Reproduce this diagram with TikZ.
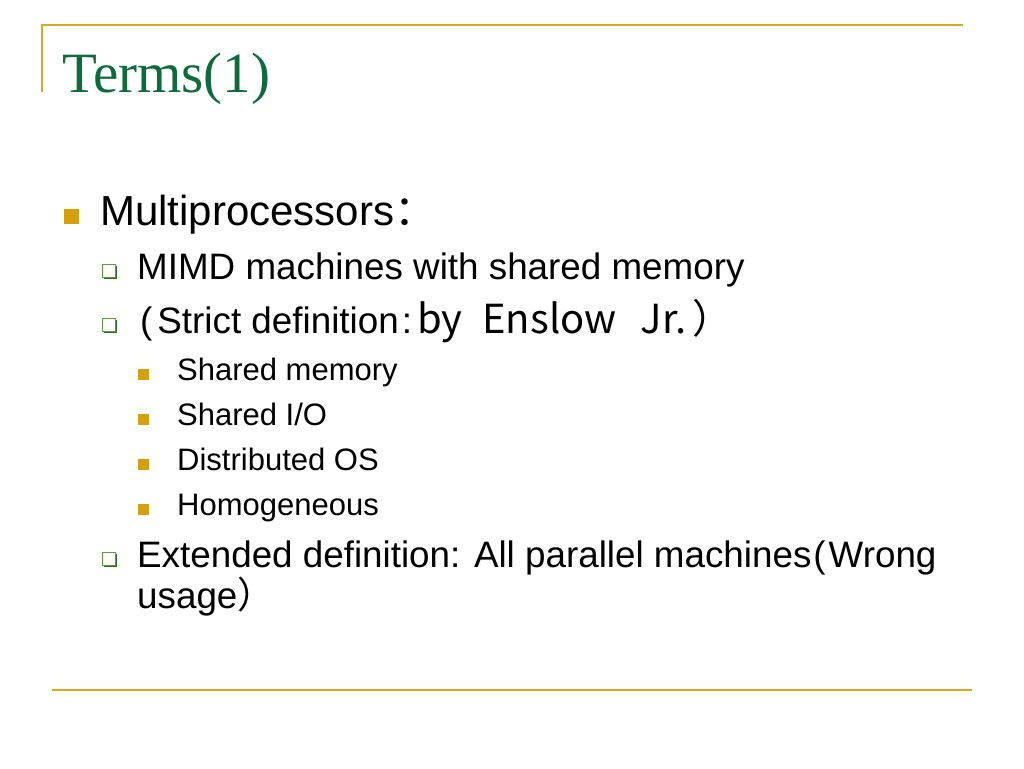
\documentclass[tikz,border=0pt]{standalone}
\usepackage{fontspec}
\setsansfont{Liberation Sans}
\newfontfamily\titlefont{Liberation Serif}
\newfontfamily\cjk{Noto Sans CJK SC}
\usetikzlibrary{shadows}
\definecolor{rulegold}{HTML}{D9A824}
\definecolor{bulgold}{HTML}{D4A010}
\definecolor{titlegreen}{HTML}{0E6B3C}
\definecolor{boxgreen}{HTML}{5C9E3C}
\definecolor{shadegreen}{HTML}{2F6A22}
\tikzset{
 rule/.style={rulegold,line width=2pt},
 txt/.style={anchor=base west,inner sep=0pt,font=\sffamily},
 levA/.style={txt,font=\sffamily\fontsize{42}{42}\selectfont},
 levB/.style={txt,font=\sffamily\fontsize{36.8}{36.8}\selectfont},
 levC/.style={txt,font=\sffamily\fontsize{31}{31}\selectfont},
 fullbul/.style={fill=bulgold,inner sep=0pt,minimum size=#1},
 openbul/.style={draw=boxgreen,fill=white,line width=1.2pt,inner sep=0pt,minimum size=13pt,
  drop shadow={shadow xshift=1.8pt,shadow yshift=-1.8pt,fill=shadegreen,opacity=1}}
}
\begin{document}
\begin{tikzpicture}[x=1pt,y=-1pt]
 \useasboundingbox[fill=white](0,0) rectangle (1024,768);
 \draw[rule](42,92)--(42,25)--(963,25);
 \draw[rule](52,690)--(972,690);
 \node[txt,font=\titlefont\fontsize{57}{57}\selectfont,text=titlegreen] (title) at (62,92) {Terms(1)};
 \node[fullbul=15pt] (b1) at (71,216) {};
 \node[levA] (multi) at (100,225) {Multiprocessors{\cjk ：}};
 \node[openbul] (b2) at (109,271) {};
 \node[levB] (mimd) at (137,279) {MIMD machines with shared memory};
 \node[openbul] (b3) at (109,325) {};
 \node[levB] (strict) at (137,333) {\kern3pt(\kern5pt Strict definition\kern3pt:\kern5pt{\cjk\fontsize{40}{40}\selectfont by\hspace{20pt}Enslow\hspace{24pt}Jr.\hspace{6pt}）}};
 \node[fullbul=11pt] (b4) at (143,374) {};
 \node[levC] (shmem) at (177,380) {Shared memory};
 \node[fullbul=11pt] (b5) at (143,419) {};
 \node[levC] (shio) at (177,425) {Shared I/O};
 \node[fullbul=11pt] (b6) at (143,464) {};
 \node[levC] (dist) at (177,470) {Distributed OS};
 \node[fullbul=11pt] (b7) at (143,509) {};
 \node[levC] (homo) at (177,515) {Homogeneous};
 \node[openbul] (b8) at (109,559) {};
 \node[levB] (ext) at (137,567) {Extended definition: All parallel machines\kern2pt(\kern3pt Wrong};
 \node[levB] (usage) at (137,608) {usage{\cjk ）}};
\end{tikzpicture}
\end{document}
